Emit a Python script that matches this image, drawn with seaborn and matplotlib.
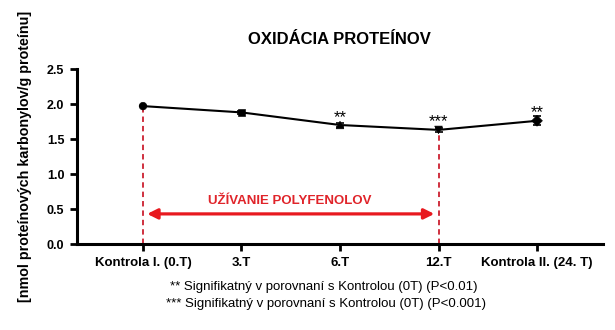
import matplotlib
matplotlib.use("Agg")
import matplotlib.pyplot as plt
import seaborn as sns
import numpy as np
import pandas as pd

# Data
categories = ["Kontrola I. (0.T)", "3.T", "6.T", "12.T", "Kontrola II. (24. T)"]
means = [1.97, 1.88, 1.70, 1.63, 1.76]
sems = [0.0, 0.02, 0.035, 0.03, 0.065]
signif = ["", "", "**", "***", "**"]
marker_shapes = ["o", "s", "^", "v", "D"]
yticks = [0.0, 0.5, 1.0, 1.5, 2.0, 2.5]

sns.set_style("ticks")
plt.rcParams["font.family"] = ["Liberation Sans", "DejaVu Sans"]
plt.rcParams["text.color"] = "black"
plt.rcParams["axes.labelcolor"] = "black"

df = pd.DataFrame({"pos": np.arange(len(categories)), "cat": categories,
                   "mean": means, "sem": sems})

fig = plt.figure(figsize=(6.15, 3.3), dpi=100)
ax = fig.add_axes([0.1252, 0.2606, 0.8553, 0.5303])

# connecting line
sns.lineplot(data=df, x="pos", y="mean", color="black", linewidth=1.5,
             sort=False, ax=ax, zorder=3)
# error bars
ax.errorbar(df["pos"], df["mean"], yerr=df["sem"], fmt="none", ecolor="black",
            elinewidth=1.2, capsize=3, capthick=1.2, zorder=4)
# per-group markers
sns.scatterplot(data=df, x="pos", y="mean", style="cat",
                markers=dict(zip(categories, marker_shapes)), color="black",
                s=30, edgecolor="black", legend=False, ax=ax, zorder=5)

# significance stars
for p, m, s in zip(df["pos"], means, signif):
    if s:
        ax.annotate(s, xy=(p, m), xytext=(0, 2.4), textcoords="offset points",
                    ha="center", va="baseline", fontsize=12, color="black")

# treatment period markers
for idx in (0, 3):
    ax.plot([idx, idx], [0, means[idx]], color="#cc2030",
            linestyle=(0, (3, 2.2)), linewidth=1.3, zorder=2)
ax.annotate("", xy=(3.0, 0.43), xytext=(0.0, 0.43),
            arrowprops=dict(arrowstyle="<|-|>", color="#e8191f", lw=2.3,
                            mutation_scale=15, shrinkA=3, shrinkB=3))
ax.text(1.49, 0.61, "UŽÍVANIE POLYFENOLOV", ha="center", va="center",
        color="#e0242a", fontsize=9.5, fontweight="bold")

ax.set_xlim(-0.67, 4.67)
ax.set_ylim(0, 2.5)
ax.set_xticks(df["pos"])
ax.set_xticklabels(categories, fontsize=9.5, fontweight="bold")
ax.set_yticks(yticks)
ax.set_yticklabels([f"{v:.1f}" for v in yticks], fontsize=9, fontweight="bold")
ax.set_xlabel("")
ax.set_ylabel("[nmol proteínových karbonylov/g proteínu]", fontsize=10.3,
              fontweight="bold", color="black")
ax.yaxis.set_label_coords(-0.085, 0.503)

for side in ("left", "bottom"):
    ax.spines[side].set_linewidth(2.2)
    ax.spines[side].set_color("black")
sns.despine(ax=ax)
ax.tick_params(axis="both", width=2, length=5, pad=4, colors="black")

fig.text(0.552, 0.879, "OXIDÁCIA PROTEÍNOV", ha="center", va="center",
         fontsize=12, fontweight="bold", color="black")
fig.text(0.527, 0.13, "** Signifikatný v porovnaní s Kontrolou (0T) (P<0.01)",
         ha="center", va="center", fontsize=9.5, color="black")
fig.text(0.530, 0.08, "*** Signifikatný v porovnaní s Kontrolou (0T) (P<0.001)",
         ha="center", va="center", fontsize=9.5, color="black")

fig.savefig("out.png", dpi=100)
